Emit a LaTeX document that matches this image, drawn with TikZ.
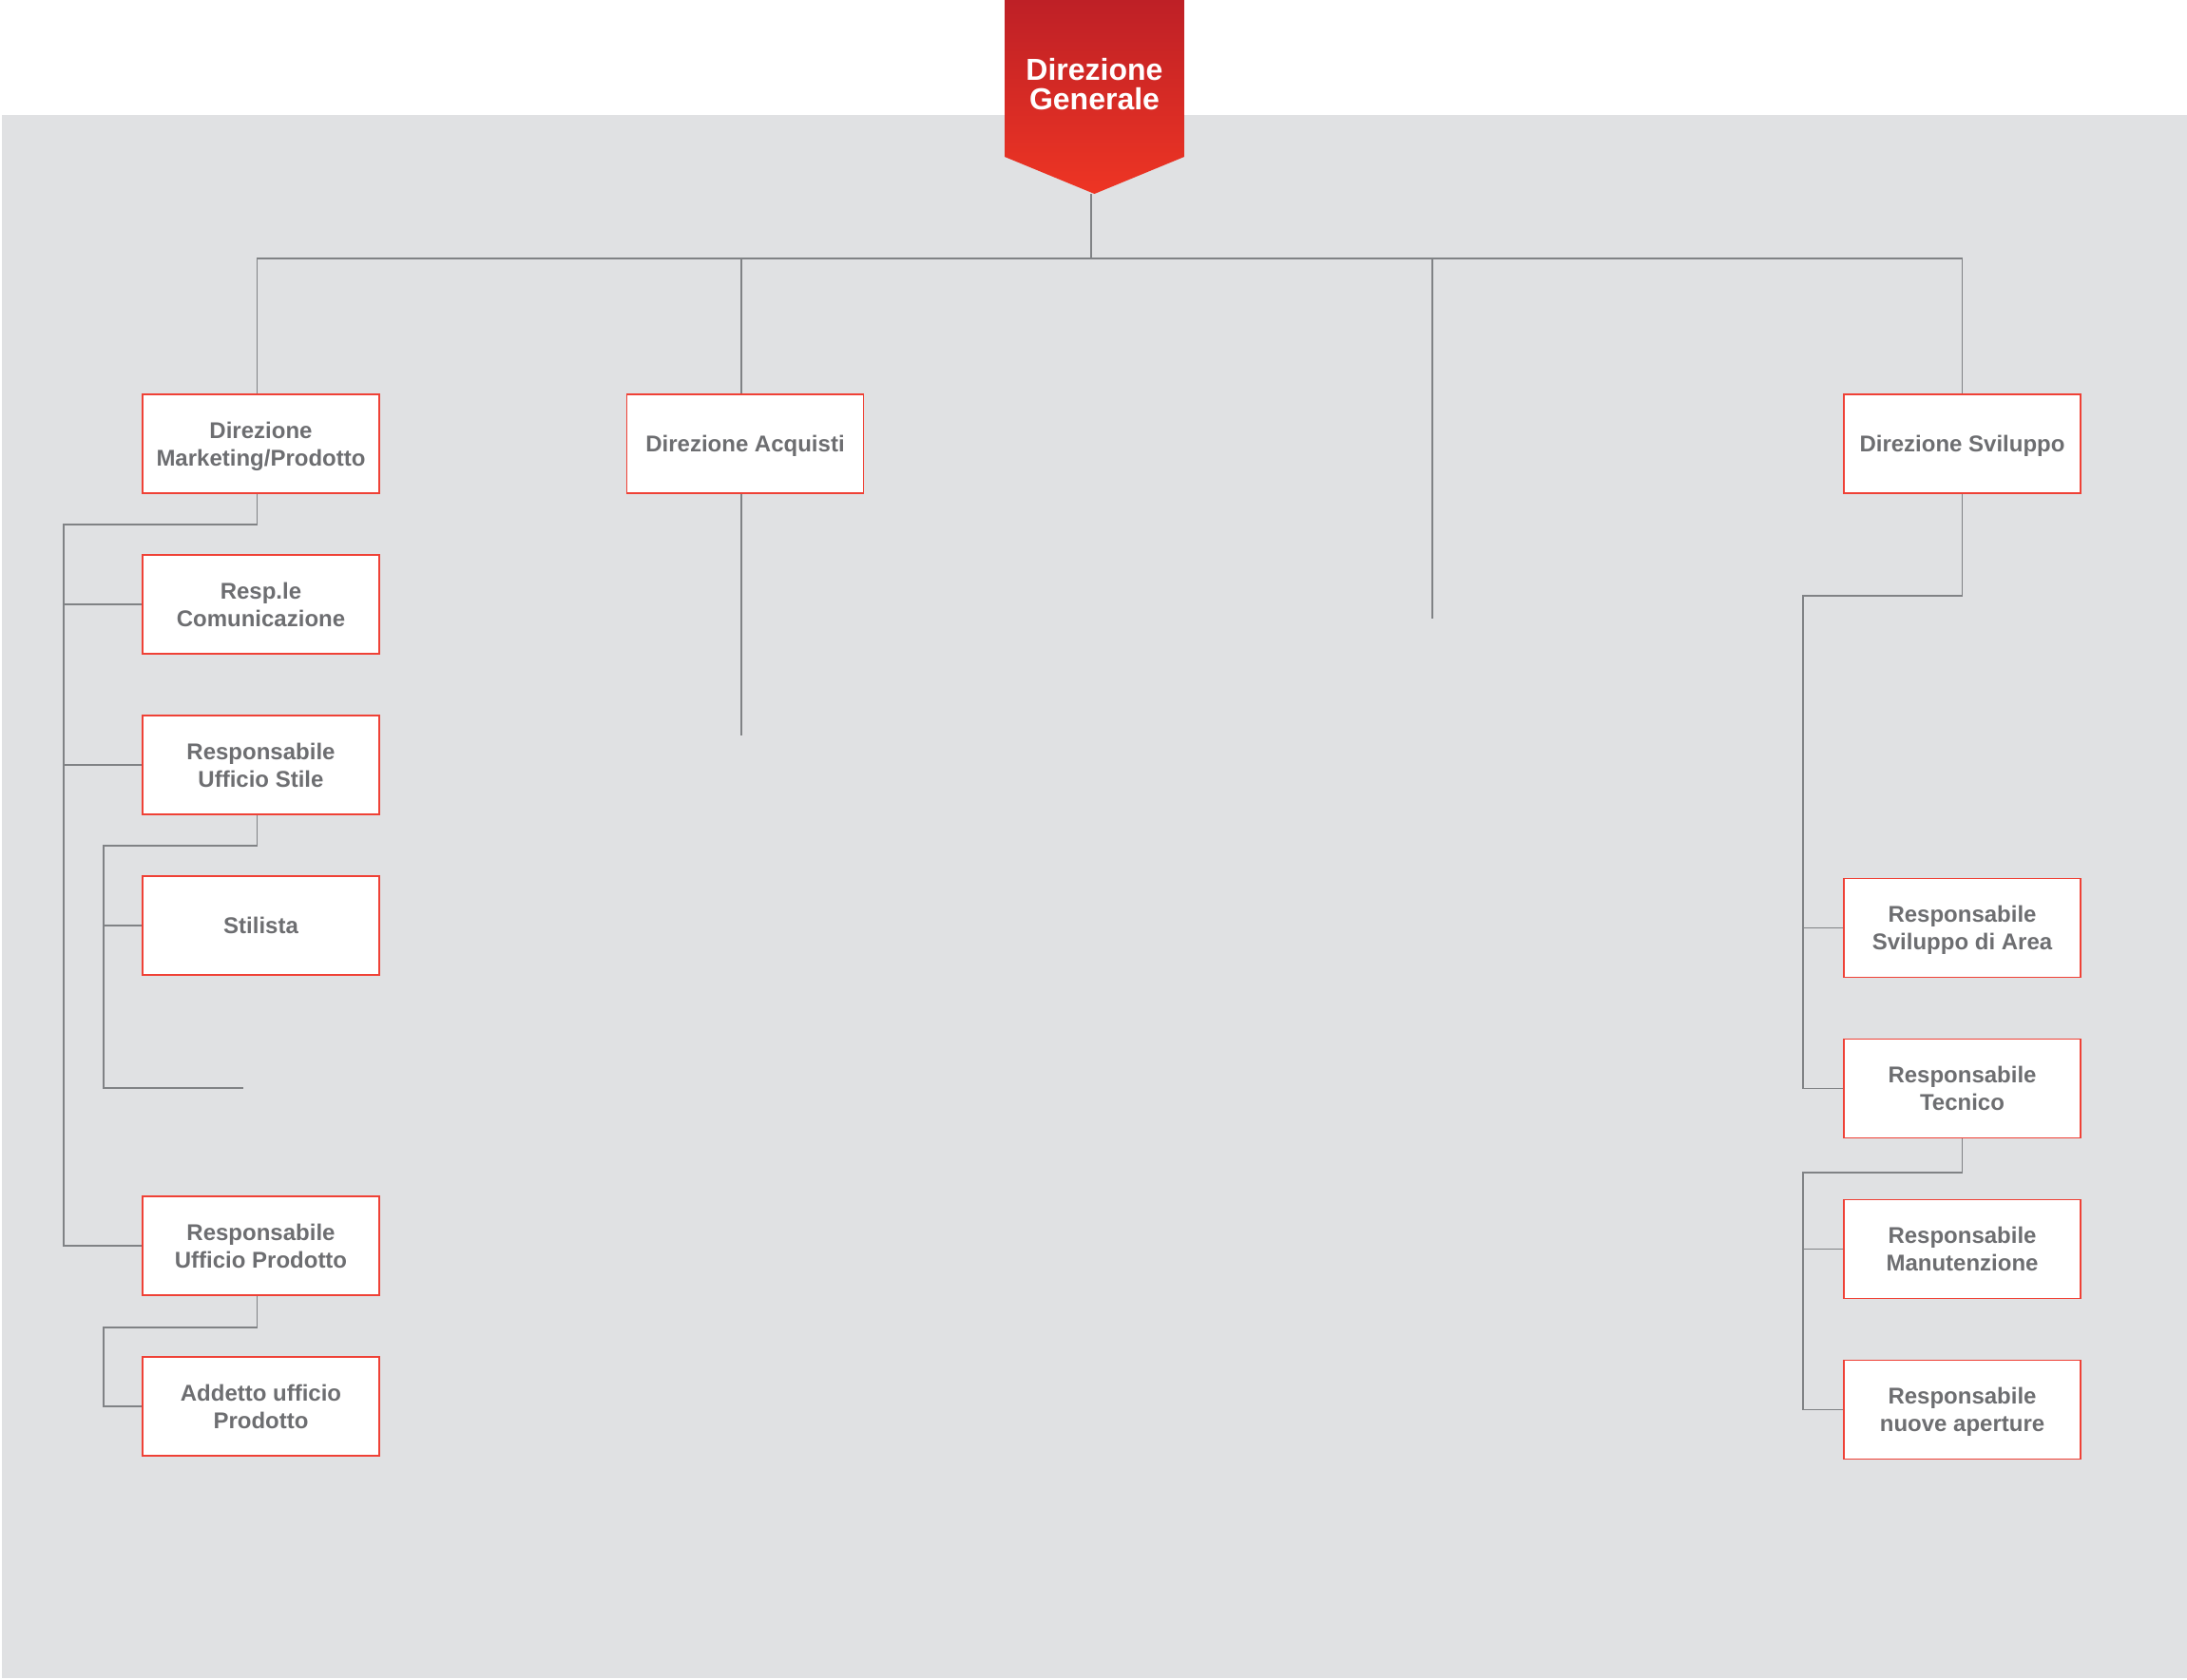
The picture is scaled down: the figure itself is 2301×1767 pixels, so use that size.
\documentclass[tikz,border=0pt]{standalone}
\usepackage{fontspec}
\setmainfont{Liberation Sans}
\usetikzlibrary{calc}
\definecolor{panel}{HTML}{E0E1E3}
\definecolor{boxred}{HTML}{EF4136}
\definecolor{txtgray}{HTML}{6D6E71}
\definecolor{wire}{HTML}{808285}
\definecolor{bannertop}{HTML}{BE2026}
\definecolor{bannerbot}{HTML}{EE3524}
\begin{document}
\begin{tikzpicture}[x=1pt,y=-1pt,
  unit/.style={draw=boxred, line width=1.5pt, fill=white, rectangle,
    minimum width=249pt, minimum height=104pt, inner sep=0pt,
    text depth=0pt,
    align=center, text=txtgray, font=\bfseries\fontsize{24}{29}\selectfont},
  conn/.style={draw=wire, line width=1.7pt},
  head/.style={text=white, align=center, inner sep=0pt,
    font=\bfseries\fontsize{32}{31}\selectfont}]
\useasboundingbox (0,0) rectangle (2301,1767);
% page and panel
\fill[white] (0,0) rectangle (2301,1767);
\fill[panel] (2,121) rectangle (2301,1766);

% top banner
\shade[top color=bannertop, bottom color=bannerbot]
  (1057,0) -- (1246,0) -- (1246,165) -- (1151.5,204) -- (1057,165) -- cycle;
\node[head] (gen) at (1151.5,89) {Direzione\\Generale};
\coordinate (gentip) at (1148,204);
\coordinate (bus) at (1148,272);

% first level
\node[unit] (mkt) at (274.5,467) {Direzione\\Marketing/Prodotto};
\node[unit] (acq) at (784,467) {Direzione Acquisti};
\node[unit] (svi) at (2064.5,467) {Direzione Sviluppo};

% marketing column
\node[unit] (com) at (274.5,636) {Resp.le\\Comunicazione};
\node[unit] (sti) at (274.5,805) {Responsabile\\Ufficio Stile};
\node[unit] (sta) at (274.5,974) {Stilista};
\node[unit] (upr) at (274.5,1311) {Responsabile\\Ufficio Prodotto};
\node[unit] (add) at (274.5,1480) {Addetto ufficio\\Prodotto};

% sviluppo column
\node[unit] (are) at (2064.5,976.5) {Responsabile\\Sviluppo di Area};
\node[unit] (tec) at (2064.5,1145.5) {Responsabile\\Tecnico};
\node[unit] (man) at (2064.5,1314.5) {Responsabile\\Manutenzione};
\node[unit] (ape) at (2064.5,1483.5) {Responsabile\\nuove aperture};

% junction points and open ends
\coordinate (lspine) at (67,552);
\coordinate (sspine) at (109,890);
\coordinate (sfree) at (256,1145);
\coordinate (pspine) at (109,1397);
\coordinate (rspine) at (1897,627);
\coordinate (tspine) at (1897,1234);
\coordinate (acqend) at (780,774);
\coordinate (blanktop) at (1507,272);
\coordinate (blankend) at (1507,651);

% connectors: drops sit a little left of the box centres
\draw[conn] (gentip) -- (bus);
\draw[conn] ($(mkt.north)+(-4,0)$) |- (bus) -| (svi.north);
\draw[conn] ($(acq.north)+(-4,0)$) -- ($(acq.north |- bus)+(-4,0)$);
\draw[conn] ($(acq.south)+(-4,0)$) -- (acqend);
\draw[conn] (blanktop) -- (blankend);

\draw[conn] ($(mkt.south)+(-4,0)$) |- (lspine) |- (upr.west);
\draw[conn] (lspine |- com.west) -- (com.west);
\draw[conn] (lspine |- sti.west) -- (sti.west);

\draw[conn] ($(sti.south)+(-4,0)$) |- (sspine) |- (sfree);
\draw[conn] (sspine |- sta.west) -- (sta.west);

\draw[conn] ($(upr.south)+(-4,0)$) |- (pspine) |- (add.west);

\draw[conn] (svi.south) |- (rspine) |- (tec.west);
\draw[conn] (rspine |- are.west) -- (are.west);

\draw[conn] (tec.south) |- (tspine) |- (ape.west);
\draw[conn] (tspine |- man.west) -- (man.west);
\end{tikzpicture}
\end{document}
